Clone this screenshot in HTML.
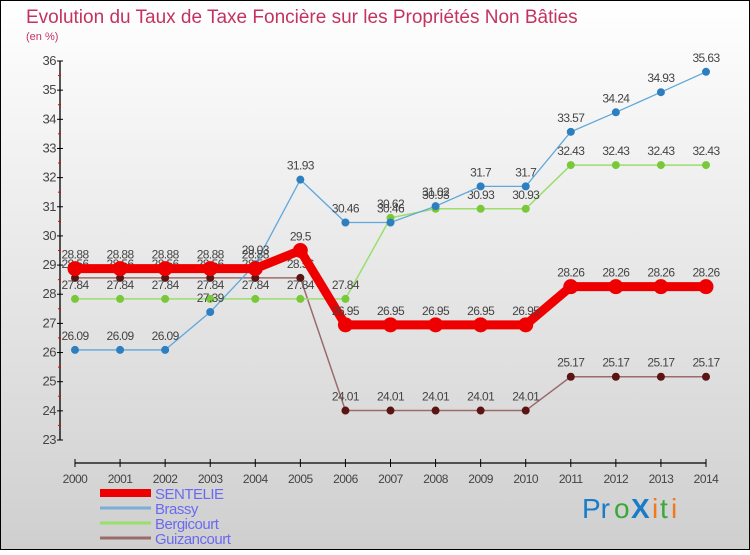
<!DOCTYPE html>
<html><head><meta charset="utf-8"><style>
html,body{margin:0;padding:0}
body{width:750px;height:550px;overflow:hidden;font-family:"Liberation Sans",sans-serif}
</style></head><body>
<svg id="chart" width="750" height="550" xmlns="http://www.w3.org/2000/svg">
<defs><linearGradient id="bg" x1="0" y1="0" x2="0" y2="1"><stop offset="0" stop-color="#ffffff"/><stop offset="1" stop-color="#cfcfcf"/></linearGradient></defs>
<rect x="0.5" y="0.5" width="749" height="549" fill="url(#bg)" stroke="#000"/>
<text x="26" y="23" font-size="19" fill="#c4335f">Evolution du Taux de Taxe Foncière sur les Propriétés Non Bâties</text>
<text x="26" y="40" font-size="11" fill="#c4335f">(en %)</text>
<g id="axes"></g><g id="series"></g><g id="legend"></g>
<g font-size="28" font-family="'Liberation Sans',sans-serif">
<text x="582" y="518" fill="#1a7bc8">Pr</text><text x="614" y="518" fill="#3aa83a">o</text><text x="631" y="518" fill="#1a7bc8" font-weight="bold">X</text><text x="652" y="518" fill="#f07820">i</text><text x="660" y="518" fill="#3aa83a">t</text><text x="671" y="518" fill="#f07820">i</text>
</g>
</svg>
<script>
const years=[2000,2001,2002,2003,2004,2005,2006,2007,2008,2009,2010,2011,2012,2013,2014];
const yTicks=[23,24,25,26,27,28,29,30,31,32,33,34,35,36];
const sentelie=[28.88,28.88,28.88,28.88,28.88,29.5,26.95,26.95,26.95,26.95,26.95,28.26,28.26,28.26,28.26];
const brassy=[26.09,26.09,26.09,27.39,29.03,31.93,30.46,30.46,31.02,31.7,31.7,33.57,34.24,34.93,35.63];
const bergicourt=[27.84,27.84,27.84,27.84,27.84,27.84,27.84,30.62,30.93,30.93,30.93,32.43,32.43,32.43,32.43];
const guizancourt=[28.56,28.56,28.56,28.56,28.56,28.56,24.01,24.01,24.01,24.01,24.01,25.17,25.17,25.17,25.17];
const seriesNames=["SENTELIE","Brassy","Bergicourt","Guizancourt"];
const NS="http://www.w3.org/2000/svg";
function xs(i){return 75+i*(706-75)/(years.length-1);}
function ys(v){return 440-(v-23)*(440-61)/13;}
function mk(tag,attrs,parent){const e=document.createElementNS(NS,tag);for(const k in attrs)e.setAttribute(k,attrs[k]);parent.appendChild(e);return e;}
const axes=document.getElementById('axes');
const yAxis=mk('line',{x1:60,y1:61,x2:60,y2:440,stroke:'#000','stroke-width':1.3},axes);


yTicks.forEach(t=>{
  const y=ys(t);
  mk('line',{x1:57,y1:y,x2:63,y2:y,stroke:'#000'},axes);
  if(t<36)mk('line',{x1:58,y1:y-14.6,x2:61,y2:y-14.6,stroke:'#e00'},axes);
  const tx=mk('text',{x:56,y:y+4,'font-size':13,fill:'#444','text-anchor':'end','letter-spacing':'-0.5'},axes);
  tx.textContent=t;
  
  
});
const xAxis=mk('line',{x1:75,y1:463,x2:706,y2:463,stroke:'#000','stroke-width':1.3},axes);


years.forEach((yr,i)=>{
  const x=xs(i);
  mk('line',{x1:x,y1:459,x2:x,y2:467,stroke:'#000'},axes);
  const tx=mk('text',{x:x,y:483,'font-size':12,fill:'#444','text-anchor':'middle','letter-spacing':'-0.5'},axes);
  tx.textContent=yr;
  
  
});
const sg=document.getElementById('series');
const defs=[
 {name:'guizancourt',data:guizancourt,line:'#9b6b6b',w:1.5,dot:'#5a1414',r:4},
 {name:'bergicourt',data:bergicourt,line:'#9ade6c',w:1.5,dot:'#79c83a',r:4},
 {name:'brassy',data:brassy,line:'#5ea8dc',w:1.3,dot:'#2e7fc0',r:4},
 {name:'sentelie',data:sentelie,line:'#ee0000',w:9,dot:'#ee0000',r:7.5}
];
defs.forEach(d=>{
  const g=mk('g',{},sg);
  
  
  const pts=d.data.map((v,i)=>xs(i)+','+ys(v)).join(' ');
  const pl=mk('polyline',{points:pts,fill:'none',stroke:d.line,'stroke-width':d.w,'stroke-linejoin':'round'},g);
  
  
  d.data.forEach((v,i)=>{
    const c=mk('circle',{cx:xs(i),cy:ys(v),r:d.r,fill:d.dot},g);
    
    
    const t=mk('text',{x:xs(i),y:ys(v)-10,'font-size':12,fill:'#444','text-anchor':'middle','letter-spacing':'-0.6'},sg);
    t.textContent=String(v);
    
    
  });
});
const lg=document.getElementById('legend');
const lcol=['#ee0000','#7aaed6','#9ade6c','#9b6b6b'];
const lw=[8,3,3,3];
seriesNames.forEach((n,i)=>{
  const y=498+i*15;
  const g=mk('g',{},lg);
  
  
  mk('line',{x1:100,y1:y-5,x2:151,y2:y-5,stroke:lcol[i],'stroke-width':lw[i]},g);
  const t=mk('text',{x:155,y:y+1,'font-size':15,fill:'#6a6af0','letter-spacing':'-0.5'},g);
  t.textContent=n;
});
</script>
</body></html>
